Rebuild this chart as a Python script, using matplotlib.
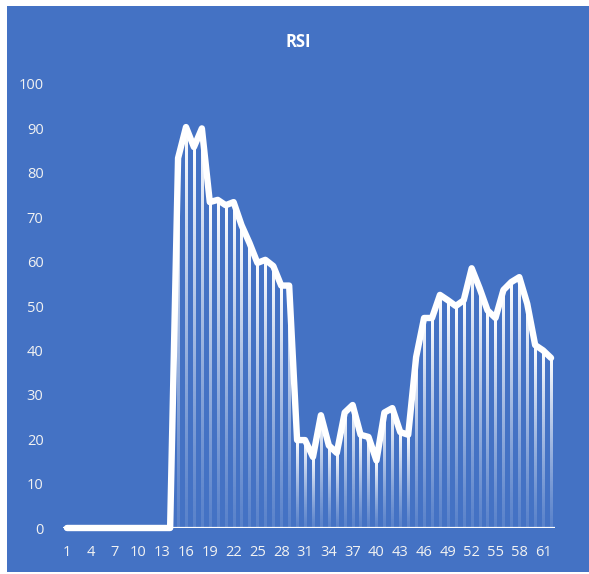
import numpy as np
import matplotlib.pyplot as plt
from matplotlib.patches import Rectangle

# RSI values per period (1..62)
periods = list(range(1, 63))
rsi = [0, 0, 0, 0, 0, 0, 0, 0, 0, 0, 0, 0, 0, 0,
       83.3, 90.3, 85.8, 90.0, 73.4, 73.9, 72.7, 73.4, 68.2, 64.2,
       59.7, 60.4, 59.0, 54.6, 54.6, 19.8, 19.8, 16.0, 25.4, 18.6,
       16.9, 26.0, 27.7, 21.0, 20.5, 15.2, 26.0, 27.0, 21.6, 21.0,
       38.5, 47.3, 47.3, 52.5, 51.3, 50.0, 51.3, 58.5, 54.0, 49.0,
       47.3, 53.6, 55.4, 56.5, 50.5, 41.2, 40.0, 38.3]
tick_labels = [str(p) for p in periods[::3]]

blue = '#4472C4'
W, H = 589, 574
fig = plt.figure(figsize=(W / 100, H / 100), dpi=100)
fig.patch.set_facecolor('white')
fig.patches.append(Rectangle((7 / W, 2 / H), 1 - 7 / W, 1 - 8 / H,
                             transform=fig.transFigure, facecolor=blue,
                             edgecolor='none', zorder=-5))

ax = fig.add_axes([63 / W, (H - 528) / H, 492 / W, 444 / H])
ax.set_facecolor('none')

# drop lines: white fading towards the axis
grad = np.zeros((64, 1, 4))
grad[..., :3] = 1.0
grad[:, 0, 3] = 0.12 + 0.88 * np.linspace(1, 0, 64) ** 1.2
half = 0.14
for x, v in zip(periods, rsi):
    if v <= 0:
        continue
    ax.imshow(grad, extent=(x - half, x + half, 0, v), aspect='auto',
              interpolation='bilinear', zorder=2)

# axis line
ax.plot([0.5, 62.5], [0, 0], color='white', lw=1.6, zorder=1,
        solid_capstyle='butt')

ax.plot(periods, rsi, color='white', lw=4.6, solid_joinstyle='round',
        solid_capstyle='round', zorder=3, clip_on=False)

ax.set_xlim(0.5, 62.5)
ax.set_ylim(0, 100)
for s in ax.spines.values():
    s.set_visible(False)
ax.set_yticks(range(0, 101, 10))
ax.set_xticks(periods[::3])
ax.set_xticklabels(tick_labels)
ax.tick_params(axis='both', length=0, colors='#F2F2F2', labelsize=10.5)
ax.tick_params(axis='y', pad=14)
ax.tick_params(axis='x', pad=12)
for lab in ax.get_xticklabels() + ax.get_yticklabels():
    lab.set_fontfamily('Open Sans')

fig.text(298 / W, 1 - 42 / H, 'RSI', color='white', fontsize=12,
         fontweight='bold', ha='center', va='center', family='Open Sans')

fig.savefig('out.png', dpi=100, facecolor='white')
